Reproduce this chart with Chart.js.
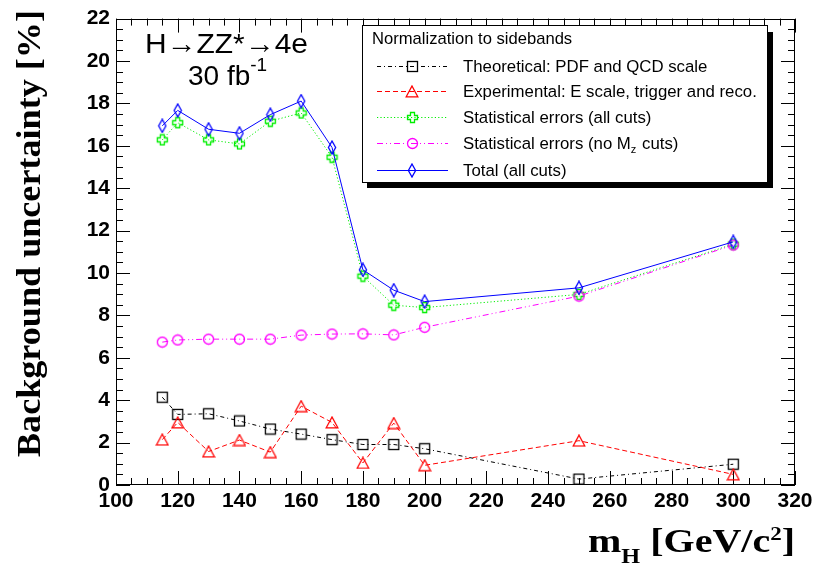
<!DOCTYPE html>
<html>
<head>
<meta charset="utf-8">
<script src="https://cdn.jsdelivr.net/npm/chart.js@4.4.0/dist/chart.umd.min.js"></script>
<style>
  html, body { margin: 0; padding: 0; background: #fff; }
  #wrap { width: 818px; height: 567px; position: relative; }
</style>
</head>
<body>
<div id="wrap"><canvas id="c" width="818" height="567"></canvas></div>
<script>
// ---- data ----
const massPoints   = [115, 120, 130, 140, 150, 160, 170, 180, 190, 200, 250, 300];
const theoretical  = [4.14, 3.33, 3.36, 3.02, 2.64, 2.40, 2.14, 1.91, 1.91, 1.71, 0.28, 0.98];
const experimental = [2.14, 2.95, 1.58, 2.12, 1.55, 3.72, 2.95, 1.04, 2.92, 0.93, 2.09, 0.50];
const statAllCuts  = [16.28, 17.09, 16.28, 16.09, 17.16, 17.55, 15.46, 9.85, 8.48, 8.37, 8.99, 11.36];
const statNoMzCuts = [6.74, 6.84, 6.88, 6.88, 6.88, 7.07, 7.12, 7.13, 7.08, 7.44, 8.91, 11.32];
const totalAllCuts = [16.94, 17.67, 16.78, 16.59, 17.47, 18.11, 15.92, 10.15, 9.19, 8.65, 9.30, 11.47];

const seriesLabels = [
  'Theoretical: PDF and QCD scale',
  'Experimental: E scale, trigger and reco.',
  'Statistical errors (all cuts)',
  'Statistical errors (no M_z cuts)',
  'Total (all cuts)'
];
const legendTitle = 'Normalization to sidebands';
const xRange = [100, 320];
const yRange = [0, 22];

// ---- marker images ----
function mk(w, h, color, draw) {
  const c = document.createElement('canvas');
  c.width = w; c.height = h;
  const g = c.getContext('2d');
  g.strokeStyle = color; g.lineWidth = 1.3; g.lineJoin = 'miter';
  draw(g, w, h);
  return c;
}
const mSquare = mk(13, 13, '#000', g => { g.strokeRect(1.5, 1.5, 10, 10); });
const mTriangle = mk(14, 13, '#ff0000', g => {
  g.beginPath(); g.moveTo(7, 1); g.lineTo(12.8, 11.8); g.lineTo(1.2, 11.8); g.closePath(); g.stroke();
});
const mCross = mk(13, 13, '#00ee00', g => {
  const c = 6.5, a = 5, b = 2;
  g.beginPath();
  g.moveTo(c - b, c - a); g.lineTo(c + b, c - a); g.lineTo(c + b, c - b); g.lineTo(c + a, c - b);
  g.lineTo(c + a, c + b); g.lineTo(c + b, c + b); g.lineTo(c + b, c + a); g.lineTo(c - b, c + a);
  g.lineTo(c - b, c + b); g.lineTo(c - a, c + b); g.lineTo(c - a, c - b); g.lineTo(c - b, c - b);
  g.closePath(); g.stroke();
});
const mCircle = mk(13, 13, '#ff00ff', g => { g.beginPath(); g.arc(6.5, 6.5, 5, 0, Math.PI * 2); g.stroke(); });
const mDiamond = mk(10, 15, '#0000ff', g => {
  g.beginPath(); g.moveTo(5, 1); g.lineTo(8.6, 7.5); g.lineTo(5, 14); g.lineTo(1.4, 7.5); g.closePath(); g.stroke();
});

const styles = [
  { color: '#000000', dash: [4, 3, 1, 3], marker: mSquare },
  { color: '#ff0000', dash: [5, 3], marker: mTriangle },
  { color: '#00ee00', dash: [1.2, 2.2], marker: mCross },
  { color: '#ff00ff', dash: [6, 3, 1, 3, 1, 3], marker: mCircle },
  { color: '#0000ff', dash: [], marker: mDiamond }
];
const seriesValues = [theoretical, experimental, statAllCuts, statNoMzCuts, totalAllCuts];

const datasets = seriesValues.map((vals, i) => ({
  label: seriesLabels[i],
  data: massPoints.map((m, k) => ({ x: m, y: vals[k] })),
  borderColor: styles[i].color,
  borderWidth: 1,
  borderDash: styles[i].dash,
  pointStyle: styles[i].marker,
  pointRadius: 6,
  pointHoverRadius: 6,
  fill: false,
  tension: 0,
  order: 5 - i
}));

// ---- rich text helper ----
function richWidth(ctx, parts) {
  let w = 0;
  parts.forEach(p => { ctx.font = p.font; w += ctx.measureText(p.t).width; });
  return w;
}
function drawRich(ctx, parts, x, y, targetW) {
  const w = richWidth(ctx, parts);
  const sx = targetW ? targetW / w : 1;
  ctx.save();
  ctx.translate(x, y);
  ctx.scale(sx, 1);
  let cx = 0;
  parts.forEach(p => {
    ctx.font = p.font;
    ctx.fillText(p.t, cx, p.dy || 0);
    cx += ctx.measureText(p.t).width;
  });
  ctx.restore();
}

const rootPlugin = {
  id: 'rootPlugin',
  beforeDatasetsDraw(chart) {
    const ctx = chart.ctx, a = chart.chartArea;
    const xs = chart.scales.x, ys = chart.scales.y;
    ctx.save();
    ctx.strokeStyle = '#000';
    ctx.lineWidth = 1;
    ctx.strokeRect(Math.round(a.left) + 0.5, Math.round(a.top) + 0.5,
                   Math.round(a.right - a.left) - 1, Math.round(a.bottom - a.top) - 1);
    ctx.beginPath();
    for (let v = xRange[0]; v <= xRange[1] + 1e-9; v += 5) {
      const px = Math.round(xs.getPixelForValue(v)) + 0.5;
      const len = (v % 20 === 0) ? 14 : 7;
      ctx.moveTo(px, a.bottom); ctx.lineTo(px, a.bottom - len);
      ctx.moveTo(px, a.top); ctx.lineTo(px, a.top + len);
    }
    for (let v = yRange[0]; v <= yRange[1] + 1e-9; v += 0.5) {
      const py = Math.round(ys.getPixelForValue(v)) + 0.5;
      const len = (Math.abs(v % 2) < 1e-9) ? 14 : 7;
      ctx.moveTo(a.left, py); ctx.lineTo(a.left + len, py);
      ctx.moveTo(a.right, py); ctx.lineTo(a.right - len, py);
    }
    ctx.stroke();
    ctx.restore();
  },
  afterDraw(chart) {
    const ctx = chart.ctx;
    ctx.save();
    ctx.fillStyle = '#000';
    ctx.textBaseline = 'alphabetic';

    // annotation
    drawRich(ctx, [{ t: 'H\u2192ZZ*\u21924e', font: '28px "Liberation Sans"' }], 145, 53, 163);
    drawRich(ctx, [
      { t: '30 fb', font: '28px "Liberation Sans"' },
      { t: '-1', font: '19px "Liberation Sans"', dy: -14 }
    ], 188, 85, 0);

    // y title
    ctx.save();
    ctx.translate(40, 233.5);
    ctx.rotate(-Math.PI / 2);
    ctx.font = 'bold 33px "Liberation Serif"';
    const yt = 'Background uncertainty [%]';
    const ytw = ctx.measureText(yt).width;
    ctx.scale(447 / ytw, 1);
    ctx.textAlign = 'center';
    ctx.fillText(yt, 0, 0);
    ctx.restore();

    // x title
    drawRich(ctx, [
      { t: 'm', font: 'bold 33px "Liberation Serif"' },
      { t: 'H', font: 'bold 20px "Liberation Serif"', dy: 11 },
      { t: ' [GeV/c', font: 'bold 33px "Liberation Serif"' },
      { t: '2', font: 'bold 19px "Liberation Serif"', dy: -12 },
      { t: ']', font: 'bold 33px "Liberation Serif"' }
    ], 588, 552, 207);

    // legend box
    const L = 362, T = 25, R = 768, B = 183;
    ctx.fillStyle = '#000';
    ctx.fillRect(R, T + 7, 5, B - T - 2);
    ctx.fillRect(L + 5, B, R - L, 5);
    ctx.fillStyle = '#fff';
    ctx.fillRect(L, T, R - L, B - T);
    ctx.strokeStyle = '#000';
    ctx.lineWidth = 1;
    ctx.strokeRect(L + 0.5, T + 0.5, R - L - 1, B - T - 1);
    ctx.fillStyle = '#000';
    ctx.font = '16.6px "Liberation Sans"';
    ctx.fillText(legendTitle, 372, 44);

    const rowY = [66, 91, 116.5, 143, 170];
    rowY.forEach((yy, i) => {
      const st = styles[i];
      ctx.save();
      ctx.strokeStyle = st.color;
      ctx.lineWidth = 1;
      ctx.setLineDash(st.dash);
      ctx.beginPath();
      ctx.moveTo(377, Math.round(yy) + 0.5);
      ctx.lineTo(448, Math.round(yy) + 0.5);
      ctx.stroke();
      ctx.restore();
      const mkr = st.marker;
      ctx.drawImage(mkr, Math.round(412 - mkr.width / 2), Math.round(yy - mkr.height / 2 + 0.5));
      ctx.fillStyle = '#000';
      ctx.font = '16.8px "Liberation Sans"';
      if (i === 3) {
        const base = 'Statistical errors (no M';
        ctx.fillText(base, 463, yy + 6);
        let cx = 463 + ctx.measureText(base).width;
        ctx.font = '11px "Liberation Sans"';
        ctx.fillText('z', cx, yy + 10);
        cx += ctx.measureText('z').width + 1;
        ctx.font = '16.8px "Liberation Sans"';
        ctx.fillText(' cuts)', cx, yy + 6);
      } else {
        ctx.fillText(seriesLabels[i], 463, yy + 6);
      }
    });
    ctx.restore();
  }
};

new Chart(document.getElementById('c'), {
  type: 'line',
  data: { datasets },
  options: {
    responsive: false,
    animation: false,
    devicePixelRatio: 1,
    layout: { padding: { top: 12, right: 23, left: 0, bottom: 0 } },
    plugins: { legend: { display: false }, tooltip: { enabled: false } },
    events: [],
    scales: {
      x: {
        type: 'linear', min: xRange[0], max: xRange[1],
        afterFit(s) { s.height = 82; },
        grid: { display: false, drawTicks: false },
        border: { display: false },
        ticks: { stepSize: 20, autoSkip: false, maxRotation: 0, padding: 4, color: '#000',
                 font: { family: 'Liberation Sans', weight: 'bold', size: 21 } }
      },
      y: {
        type: 'linear', min: yRange[0], max: yRange[1],
        afterFit(s) { s.width = 116; },
        grid: { display: false, drawTicks: false },
        border: { display: false },
        ticks: { stepSize: 2, autoSkip: false, padding: 6, color: '#000',
                 font: { family: 'Liberation Sans', weight: 'bold', size: 21 } }
      }
    }
  },
  plugins: [rootPlugin]
});
</script>
</body>
</html>
